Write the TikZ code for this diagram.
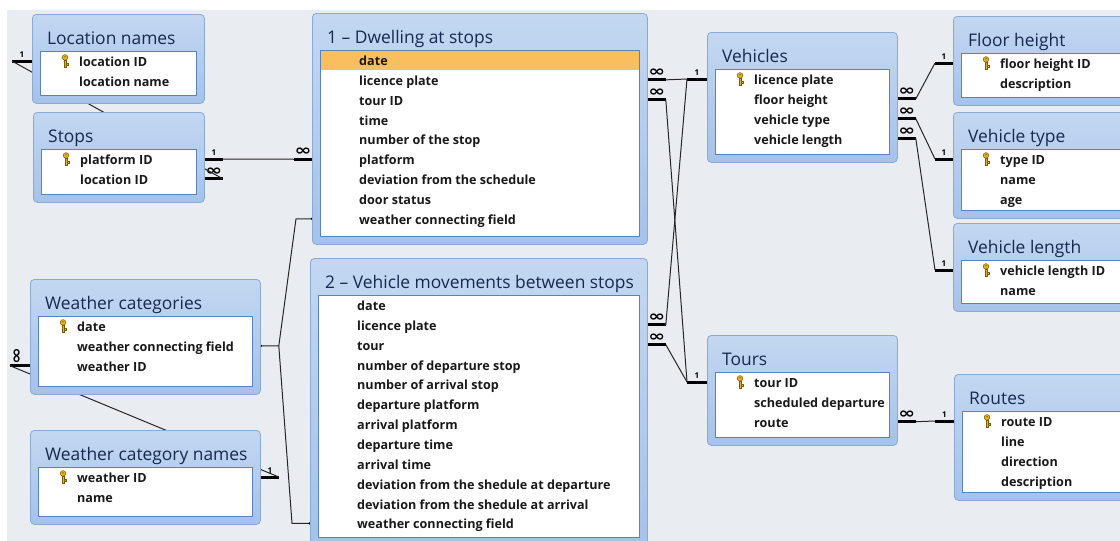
\documentclass[tikz,border=0pt]{standalone}
\usepackage{fontspec}
\setmainfont{Open Sans}
\newfontfamily\symfont{DejaVu Sans}
\usepackage{tikz}
\usetikzlibrary{calc}
\definecolor{paperBg}{HTML}{E9EDF2}
\definecolor{frameTop}{HTML}{C3D7F1}
\definecolor{frameBottom}{HTML}{A5C2EA}
\definecolor{frameEdge}{HTML}{89A9D6}
\definecolor{listEdge}{HTML}{5A82BE}
\definecolor{titleInk}{HTML}{17294F}
\definecolor{rowMark}{HTML}{F9BF5E}
\definecolor{keyGold}{HTML}{E6B422}
\definecolor{keyEdge}{HTML}{7A5C00}
\def\rowStep{19.85}
\def\oneMark{1}
\def\manyMark{\scalebox{1.35}[1]{\symfont\bfseries\fontsize{15}{15}\selectfont ∞}}
\pgfdeclarelayer{paper}
\pgfdeclarelayer{links}
\pgfdeclarelayer{front}
\pgfsetlayers{paper,links,main,front}

\tikzset{
	tableframe/.style={draw=frameEdge, top color=frameTop, bottom color=frameBottom, rounded corners=4pt, line width=0.8pt, inner sep=0pt, anchor=north west},
	fieldlist/.style={draw=listEdge, fill=white, line width=0.8pt, inner sep=0pt, anchor=north west},
	tabletitle/.style={text=titleInk, font=\fontsize{17.4}{20}\selectfont, inner sep=0pt, anchor=base west},
	fieldname/.style={font=\bfseries\fontsize{12.6}{14}\selectfont, text=black!90, inner sep=0pt, text height=12pt, text depth=1pt, anchor=west},
	relstub/.style={line width=3pt, line cap=butt},
	relline/.style={line width=1pt, black!85},
	endlabel/.style={font=\bfseries\fontsize{8}{9}\selectfont, inner sep=0pt, above=2pt},
	keyshape/.style={fill=keyGold, draw=keyEdge, line width=0.5pt},
}

\newcommand\dbtable[7]{%
	\node[tableframe, minimum width=#4pt, minimum height=#5pt] (#1) at (#2,#3) {};
	\node[fieldlist, minimum width=#4pt-16pt, minimum height=#5pt-45pt] (#1-list) at (#2+8,#3+37) {};
	\node[tabletitle] (#1-title) at (#2+15,#3+30) {#6};
	\begin{pgfonlayer}{front}
		\foreach \f [count=\i] in {#7}
			\node[fieldname] (#1-\i) at (#2+47,#3+47+\rowStep*\i-\rowStep) {\f};
	\end{pgfonlayer}
}

\newcommand\keyicon[1]{%
	\begin{pgfonlayer}{front}
		\path (#1.west) ++(-14,0) coordinate (#1-key);
		\draw[keyshape] ($(#1-key)+(-1,-1)$) rectangle ($(#1-key)+(1,6)$);
		\draw[keyshape] ($(#1-key)+(1,2.6)$) rectangle ($(#1-key)+(3,4)$);
		\draw[keyshape] ($(#1-key)+(0,-3.6)$) circle (2.8);
		\fill[keyEdge] ($(#1-key)+(0,-4.2)$) circle (0.8);
	\end{pgfonlayer}
}

\newcommand\relend[4]{%
	\begin{pgfonlayer}{links}
		\draw[relstub] (#2) -- ++(#3,0) node[endlabel, midway] {#4} coordinate (#1);
	\end{pgfonlayer}
}

\begin{document}
\begin{tikzpicture}[x=1pt, y=-1pt, line cap=round, line join=round]
	\useasboundingbox (0,0) rectangle (1120,541);
	\begin{pgfonlayer}{paper}
		\fill[white] (0,0) rectangle (1120,541);
		\fill[paperBg] (7,10) rectangle (1120,541);
	\end{pgfonlayer}

	\dbtable{loc}{32}{14}{172}{89}{Location names}{location ID, location name}
	\dbtable{stops}{33}{112}{171}{90}{Stops}{platform ID, location ID}
	\dbtable{dwell}{312}{13}{335}{231}{1 – Dwelling at stops}{date, licence plate, tour ID, time, number of the stop, platform, deviation from the schedule, door status, weather connecting field}
	\dbtable{move}{310}{258}{337}{287}{2 – Vehicle movements between stops}{date, licence plate, tour, number of departure stop, number of arrival stop, departure platform, arrival platform, departure time, arrival time, deviation from the shedule at departure, deviation from the shedule at arrival, weather connecting field}
	\dbtable{veh}{707}{32}{190}{130}{Vehicles}{licence plate, floor height, vehicle type, vehicle length}
	\dbtable{floor}{953}{16}{175}{89}{Floor height}{floor height ID, description}
	\dbtable{vtype}{953}{112}{175}{106}{Vehicle type}{type ID, name, age}
	\dbtable{vlen}{953}{223}{175}{88}{Vehicle length}{vehicle length ID, name}
	\dbtable{wcat}{30}{279}{230}{115}{Weather categories}{date, weather connecting field, weather ID}
	\dbtable{wname}{30}{430}{230}{94}{Weather category names}{weather ID, name}
	\dbtable{tours}{707}{335}{190}{110}{Tours}{tour ID, scheduled departure, route}
	\dbtable{routes}{954}{374}{175}{126}{Routes}{route ID, line, direction, description}

	\fill[rowMark] ($(dwell-list.north west)+(0.5,0.5)$) rectangle ($(dwell-list.north east)+(-0.5,20)$);

	\foreach \k in {loc-1, stops-1, veh-1, floor-1, vtype-1, vlen-1, wcat-1, wname-1, tours-1, routes-1} {
		\keyicon{\k}
	}

	\relend{s1}{stops.east |- stops-1}{18}{\oneMark}
	\relend{s2}{dwell.west |- dwell-6}{-18}{\manyMark}
	\relend{l1}{loc.west |- loc-1}{-20}{\oneMark}
	\relend{l2}{stops.east |- stops-2}{18}{\manyMark}
	\relend{w2}{wname.east |- wname-1}{18}{\oneMark}
	\relend{d2}{dwell.east |- dwell-2}{18}{\manyMark}
	\relend{d3}{dwell.east |- dwell-3}{18}{\manyMark}
	\relend{m2}{move.east |- move-2}{18}{\manyMark}
	\relend{m3}{move.east |- move-3}{18}{\manyMark}
	\relend{v1}{veh.west |- veh-1}{-20}{\oneMark}
	\relend{t1}{tours.west |- tours-1}{-20}{\oneMark}
	\relend{v2}{veh.east |- veh-2}{18}{\manyMark}
	\relend{v3}{veh.east |- veh-3}{18}{\manyMark}
	\relend{v4}{veh.east |- veh-4}{18}{\manyMark}
	\relend{f1}{floor.west |- floor-1}{-18}{\oneMark}
	\relend{vt1}{vtype.west |- vtype-1}{-18}{\oneMark}
	\relend{vl1}{vlen.west |- vlen-1}{-18}{\oneMark}
	\relend{t3}{tours.east |- tours-3}{18}{\manyMark}
	\relend{r1}{routes.west |- routes-1}{-19}{\oneMark}

	\begin{pgfonlayer}{links}
		\draw[relstub] (wcat.west |- wcat-3) -- ++(-20,0) coordinate (w1)
			node[midway, rotate=90, anchor=west, inner sep=0pt, yshift=2pt] {\manyMark};
		\draw[relline] (s1) -- (s2);
		\draw[relline] (l1) -- (l2);
		\draw[relline] (w1) -- (w2);
		\draw[relline] (d2) -- (v1);
		\draw[relline] (m2) -- (v1);
		\draw[relline] (d3) -- (t1);
		\draw[relline] (m3) -- (t1);
		\draw[relline] (v2) -- (f1);
		\draw[relline] (v3) -- (vt1);
		\draw[relline] (v4) -- (vl1);
		\draw[relline] (t3) -- (r1);

		\coordinate (wjoin) at ($(wcat.east |- wcat-2)+(18,0)$);
		\coordinate (wup) at ($(dwell.west |- dwell-9)+(-16,0)$);
		\coordinate (wdown) at ($(move.west |- move-12)+(-18,0)$);
		\draw[relline] (wcat.east |- wcat-2) -- (wjoin) -- (wup) -- (dwell.west |- dwell-9);
		\draw[relline] (wjoin) -- (wdown) -- (move.west |- move-12);
		\fill (wcat.east |- wcat-2) circle (1.4) (dwell.west |- dwell-9) circle (1.4) (move.west |- move-12) circle (1.4);
	\end{pgfonlayer}
\end{tikzpicture}
\end{document}
